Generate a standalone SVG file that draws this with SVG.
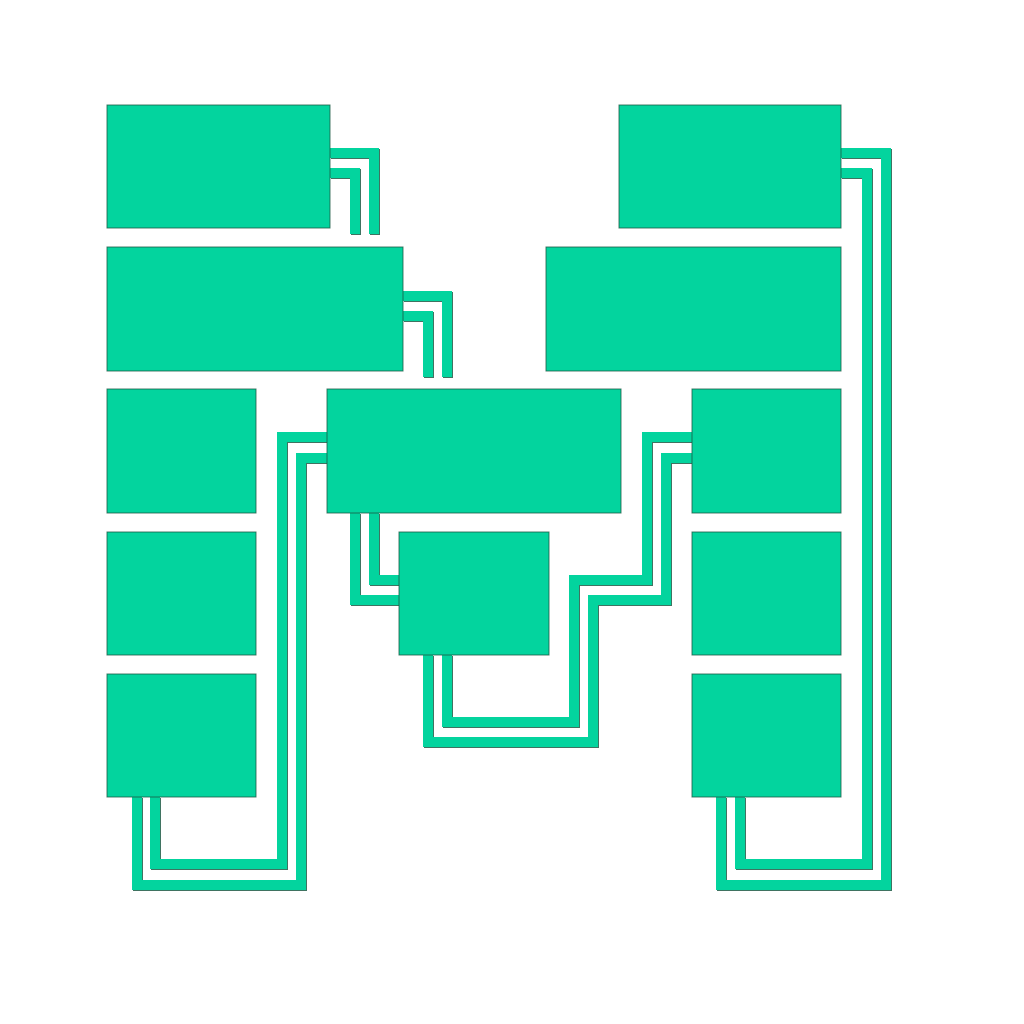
<svg xmlns="http://www.w3.org/2000/svg" width="1024" height="1024" viewBox="0 0 1024 1024">
<style>
.node{fill:#03D49E;stroke:#1d5a45;stroke-width:1;stroke-opacity:0.8}
.sh{fill:none;stroke:#1d5a45;stroke-width:10;stroke-linejoin:miter;stroke-linecap:butt;stroke-opacity:0.85}
.ln{fill:none;stroke:#03D49E;stroke-width:10;stroke-linejoin:miter;stroke-linecap:butt}
</style>
<defs>
<g id="paths">
<polyline id="c1" points="330,153 374,153 374,234"/>
<polyline id="c2" points="330,173 355,173 355,234"/>
<polyline id="c3" points="403,296 447,296 447,377"/>
<polyline id="c4" points="403,316 428,316 428,377"/>
<polyline id="c5" points="327,437 282,437 282,864 155,864 155,797"/>
<polyline id="c6" points="327,458 301,458 301,885 137,885 137,797"/>
<polyline id="c7" points="355,513 355,600 399,600"/>
<polyline id="c8" points="374,513 374,580 399,580"/>
<polyline id="c9" points="692,437 647,437 647,580 574,580 574,722 447,722 447,655"/>
<polyline id="c10" points="692,458 666,458 666,600 593,600 593,742 428,742 428,655"/>
<polyline id="c11" points="841,153 886,153 886,885 721,885 721,797"/>
<polyline id="c12" points="841,173 867,173 867,864 740,864 740,797"/>
</g>
</defs>
<rect width="1024" height="1024" fill="#ffffff"/>
<g id="connectors">
<use href="#paths" class="sh" transform="translate(1,1)"/>
<use href="#paths" class="ln"/>
</g>
<g id="n1"><rect class="node" x="107" y="105" width="223" height="123"/></g>
<g id="n2"><rect class="node" x="107" y="247" width="296" height="124"/></g>
<g id="n3"><rect class="node" x="107" y="389" width="149" height="124"/></g>
<g id="n4"><rect class="node" x="107" y="532" width="149" height="123"/></g>
<g id="n5"><rect class="node" x="107" y="674" width="149" height="123"/></g>
<g id="n6"><rect class="node" x="619" y="105" width="222" height="123"/></g>
<g id="n7"><rect class="node" x="546" y="247" width="295" height="124"/></g>
<g id="n8"><rect class="node" x="692" y="389" width="149" height="124"/></g>
<g id="n9"><rect class="node" x="692" y="532" width="149" height="123"/></g>
<g id="n10"><rect class="node" x="692" y="674" width="149" height="123"/></g>
<g id="n11"><rect class="node" x="327" y="389" width="294" height="124"/></g>
<g id="n12"><rect class="node" x="399" y="532" width="150" height="123"/></g>
</svg>
